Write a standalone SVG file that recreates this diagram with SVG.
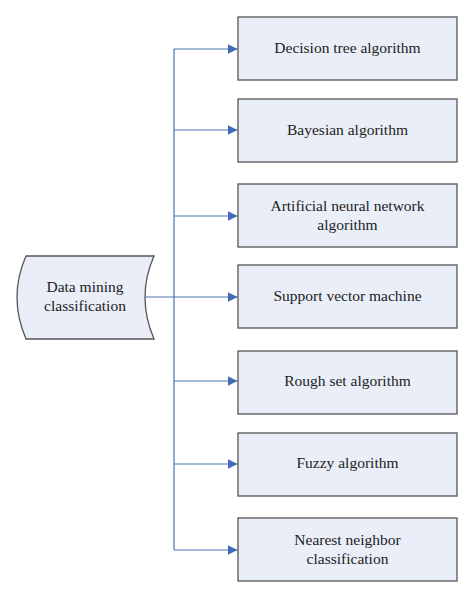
<svg xmlns="http://www.w3.org/2000/svg" width="474" height="598" viewBox="0 0 474 598">
<style>
.box{fill:#e9eef8;stroke:#555;stroke-width:1.3}
.lbl{font-family:"Liberation Serif","DejaVu Serif",serif;font-size:15.5px;fill:#222;text-anchor:middle}
.con{fill:none;stroke:#4a72b5;stroke-width:1.2}
</style>
<defs>
<marker id="ah" markerWidth="10" markerHeight="10" refX="10" refY="5" orient="auto" markerUnits="userSpaceOnUse">
<path d="M0,0 L10,5 L0,10 Z" fill="#3f6db3"/>
</marker>
</defs>
<rect width="474" height="598" fill="#fff"/>
<g id="connectors">
<path class="con" d="M143,297 H237.5" marker-end="url(#ah)"/>
<path class="con" d="M174,49 V550"/>
<path class="con" d="M174,49 H237.5" marker-end="url(#ah)"/>
<path class="con" d="M174,130 H237.5" marker-end="url(#ah)"/>
<path class="con" d="M174,216 H237.5" marker-end="url(#ah)"/>
<path class="con" d="M174,381 H237.5" marker-end="url(#ah)"/>
<path class="con" d="M174,464 H237.5" marker-end="url(#ah)"/>
<path class="con" d="M174,550 H237.5" marker-end="url(#ah)"/>
</g>
<g id="source">
<path class="box" d="M26,256 H154 Q136,297 154,339 H26 Q8,297 26,256 Z"/>
<text class="lbl" x="85" y="292">Data mining</text>
<text class="lbl" x="85" y="311">classification</text>
</g>
<g id="n1"><rect class="box" x="238" y="17" width="219" height="63"/><text class="lbl" x="347.5" y="53">Decision tree algorithm</text></g>
<g id="n2"><rect class="box" x="238" y="99" width="219" height="63"/><text class="lbl" x="347.5" y="135">Bayesian algorithm</text></g>
<g id="n3"><rect class="box" x="238" y="184" width="219" height="63"/><text class="lbl" x="347.5" y="211">Artificial neural network</text><text class="lbl" x="347.5" y="230">algorithm</text></g>
<g id="n4"><rect class="box" x="238" y="265" width="219" height="63"/><text class="lbl" x="347.5" y="301">Support vector machine</text></g>
<g id="n5"><rect class="box" x="238" y="351" width="219" height="63"/><text class="lbl" x="347.5" y="386">Rough set algorithm</text></g>
<g id="n6"><rect class="box" x="238" y="433" width="219" height="63"/><text class="lbl" x="347.5" y="468">Fuzzy algorithm</text></g>
<g id="n7"><rect class="box" x="238" y="518" width="219" height="63"/><text class="lbl" x="347.5" y="545">Nearest neighbor</text><text class="lbl" x="347.5" y="564">classification</text></g>
</svg>
